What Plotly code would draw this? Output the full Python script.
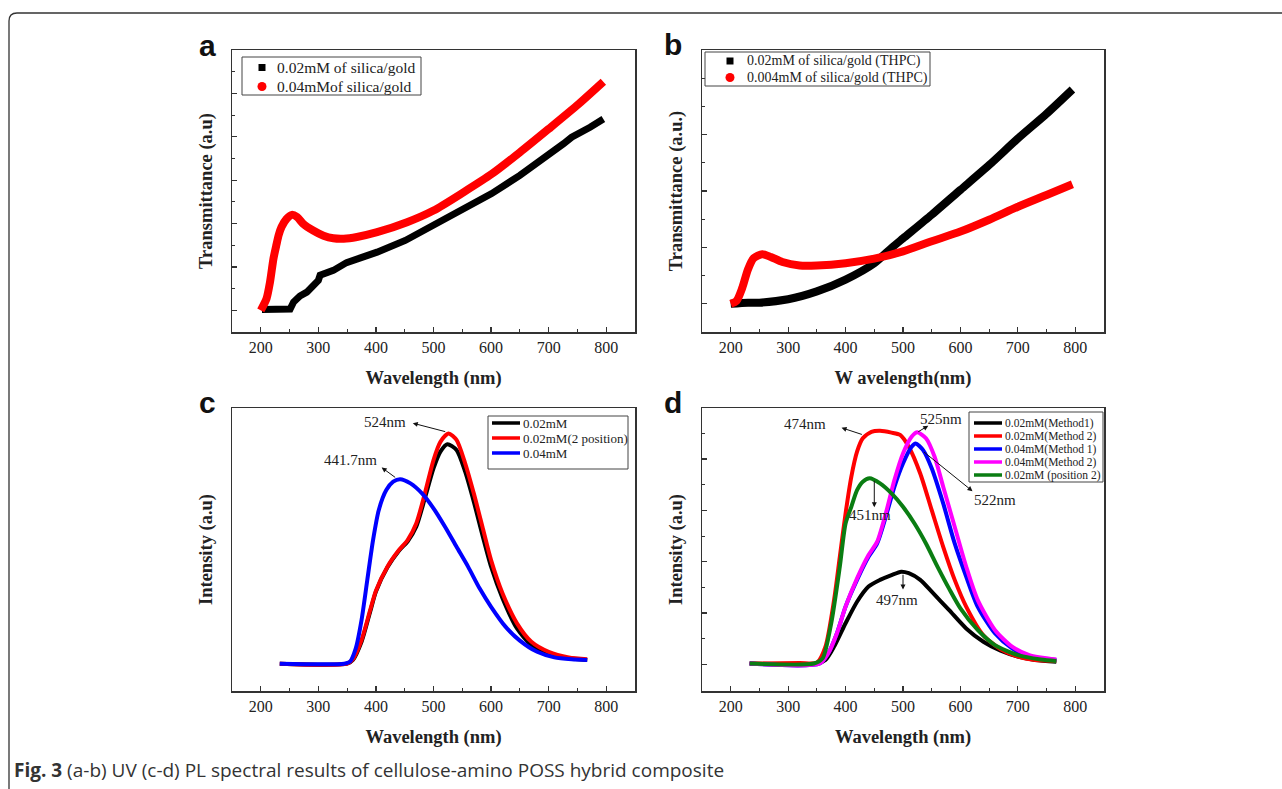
import plotly.graph_objects as go

W, H = 1282, 789

# ---------------- data ----------------
wl_ticks = [200, 300, 400, 500, 600, 700, 800]
wl_tick_text = ["200", "300", "400", "500", "600", "700", "800"]
wl_minor = [250, 350, 450, 550, 650, 750]

# (a) UV transmittance
a_black_x = [202, 251, 257, 268, 280, 291, 300, 303, 309, 326, 349, 402, 451, 500, 550, 601, 650, 700, 726, 740, 749, 772, 795]
a_black_y = [0.02, 0.03, 0.19, 0.33, 0.42, 0.54, 0.69, 0.81, 0.84, 0.92, 1.10, 1.34, 1.61, 1.96, 2.30, 2.69, 3.11, 3.57, 3.84, 3.99, 4.05, 4.22, 4.41]
a_red_x = [200, 210, 216, 222, 227, 231, 236, 245, 254, 263, 274, 291, 309, 326, 344, 367, 402, 454, 500, 552, 601, 650, 700, 749, 795]
a_red_y = [0.0, 0.27, 0.65, 1.19, 1.50, 1.73, 1.92, 2.11, 2.20, 2.15, 1.99, 1.84, 1.72, 1.66, 1.65, 1.69, 1.80, 2.03, 2.30, 2.72, 3.14, 3.64, 4.18, 4.72, 5.27]
a_names = ["0.02mM of silica/gold", "0.04mMof silica/gold"]

# (b) UV transmittance (THPC)
b_black_x = [200, 230, 250, 300, 350, 400, 450, 480, 500, 550, 600, 650, 700, 750, 795]
b_black_y = [0.0, 0.02, 0.02, 0.08, 0.22, 0.43, 0.72, 0.99, 1.16, 1.58, 2.02, 2.46, 2.93, 3.37, 3.80]
b_red_x = [200, 210, 220, 230, 240, 255, 270, 290, 320, 350, 400, 450, 500, 550, 600, 650, 700, 750, 795]
b_red_y = [0.0, 0.05, 0.28, 0.61, 0.81, 0.88, 0.83, 0.74, 0.68, 0.68, 0.72, 0.80, 0.93, 1.11, 1.28, 1.49, 1.72, 1.93, 2.12]
b_names = ["0.02mM of silica/gold (THPC)", "0.004mM of silica/gold (THPC)"]

# (c) PL intensity
c_black_x = [233, 350, 360, 375, 390, 400, 420, 440, 455, 470, 485, 500, 512, 524, 540, 555, 570, 585, 600, 620, 645, 670, 700, 735, 767]
c_black_y = [0, 0, 1.6, 9.4, 22.3, 30.9, 41.3, 48.4, 52.4, 58.7, 70.9, 83.7, 90.9, 94.1, 91.6, 82.3, 69.4, 55.1, 41.6, 28.0, 15.1, 8.0, 4.1, 2.3, 1.6]
c_red_x = [233, 350, 360, 375, 390, 400, 420, 440, 455, 470, 485, 500, 512, 526, 540, 555, 570, 585, 600, 620, 645, 670, 700, 735, 767]
c_red_y = [0, 0, 1.9, 10.1, 23.0, 31.3, 41.6, 48.7, 53.0, 60.1, 73.0, 87.3, 95.1, 98.7, 95.9, 85.9, 73.0, 58.7, 44.4, 30.1, 17.3, 9.4, 5.1, 2.7, 1.9]
c_blue_x = [233, 345, 355, 365, 375, 385, 395, 405, 418, 430, 442, 460, 480, 500, 520, 540, 560, 580, 600, 625, 650, 680, 710, 740, 767]
c_blue_y = [0, 0, 0.9, 6.6, 18.7, 35.9, 53.0, 65.9, 74.4, 78.0, 79.1, 77.3, 73.0, 66.6, 58.7, 50.1, 41.6, 32.3, 24.4, 15.9, 9.9, 5.1, 2.7, 1.9, 1.6]
c_names = ["0.02mM", "0.02mM(2 position)", "0.04mM"]
c_colors = ["#000000", "#ff0000", "#0000ff"]

# (d) PL intensity
d_black_x = [233, 350, 365, 380, 400, 420, 440, 460, 480, 497, 510, 530, 550, 580, 610, 640, 670, 700, 730, 767]
d_black_y = [0.3, 0.3, 1.7, 6.9, 16.0, 24.4, 30.3, 32.9, 34.8, 36.1, 35.5, 32.9, 28.3, 21.2, 14.0, 8.8, 5.3, 3.0, 1.7, 1.0]
d_red_x = [233, 320, 350, 365, 380, 390, 400, 410, 420, 430, 445, 460, 480, 495, 510, 530, 550, 570, 590, 610, 640, 670, 700, 730, 767]
d_red_y = [0.3, 0.5, 0.6, 6.9, 25.1, 41.9, 58.8, 73.1, 82.9, 88.1, 90.6, 91.0, 90.3, 89.4, 84.8, 74.4, 60.1, 45.8, 32.9, 22.5, 11.3, 5.9, 3.0, 1.7, 1.3]
d_blue_x = [233, 355, 370, 385, 400, 420, 440, 455, 470, 485, 500, 515, 522, 535, 550, 570, 590, 610, 630, 660, 690, 720, 767]
d_blue_y = [0.3, 0.3, 4.3, 12.1, 22.5, 32.9, 41.9, 47.1, 57.5, 69.2, 78.3, 84.8, 86.1, 83.5, 76.4, 62.7, 47.1, 34.2, 22.5, 12.1, 6.2, 3.0, 1.7]
d_mag_x = [233, 355, 370, 385, 400, 420, 440, 455, 470, 485, 500, 515, 525, 540, 555, 570, 590, 610, 630, 660, 690, 720, 767]
d_mag_y = [0.3, 0.3, 4.3, 12.1, 22.5, 33.5, 42.6, 47.8, 58.8, 71.8, 82.2, 88.7, 90.4, 88.1, 80.9, 69.2, 53.6, 38.1, 25.1, 13.4, 6.9, 3.6, 1.9]
d_green_x = [233, 345, 360, 375, 390, 400, 410, 420, 430, 442, 460, 480, 500, 520, 540, 560, 580, 600, 630, 660, 700, 740, 767]
d_green_y = [0.3, 0.3, 2.3, 16.0, 38.1, 54.9, 61.4, 67.9, 71.2, 72.5, 70.5, 66.6, 61.4, 54.9, 47.1, 38.1, 29.6, 21.8, 13.4, 7.5, 3.6, 1.9, 1.3]
d_names = ["0.02mM(Method1)", "0.02mM(Method 2)", "0.04mM(Method 1)", "0.04mM(Method 2)", "0.02mM (position 2)"]
d_colors = ["#000000", "#ff0000", "#0000ff", "#ff00ff", "#0a7d12"]

caption_bold = "Fig. 3"
caption_rest = " (a-b) UV (c-d) PL spectral results of cellulose-amino POSS hybrid composite"

# ---------------- helpers ----------------
def px(x):
    return x / W


def py(y):
    return 1 - y / H


SERIF = "Liberation Serif, Times New Roman, serif"
SANS = "Liberation Sans, Arial, sans-serif"
AXC = "#333333"
TXT = "#222222"

fig = go.Figure()


def curve(x, y, color, width, xa, ya, name="", shape="spline"):
    fig.add_trace(go.Scatter(
        x=x, y=y, mode="lines", name=name,
        line=dict(color=color, width=width, shape=shape, smoothing=0.7),
        xaxis=xa, yaxis=ya, showlegend=False, hoverinfo="skip"))


# (a)
curve(a_black_x, a_black_y, "#000000", 7, "x", "y", a_names[0], shape="linear")
curve(a_red_x, a_red_y, "#ff0000", 8, "x", "y", a_names[1])
# (b)
curve(b_black_x, b_black_y, "#000000", 8, "x2", "y2", b_names[0])
curve(b_red_x, b_red_y, "#ff0000", 8, "x2", "y2", b_names[1])
# (c)
for (xs, ys), nm, col in zip([(c_black_x, c_black_y), (c_red_x, c_red_y), (c_blue_x, c_blue_y)],
                             c_names, c_colors):
    curve(xs, ys, col, 4, "x3", "y3", nm)
# (d)
d_series = [(d_black_x, d_black_y), (d_red_x, d_red_y), (d_blue_x, d_blue_y),
            (d_mag_x, d_mag_y), (d_green_x, d_green_y)]
for (xs, ys), nm, col in zip(d_series, d_names, d_colors):
    curve(xs, ys, col, 4, "x4", "y4", nm)

# ---------------- axes ----------------
XD_L = [px(232), px(635)]
XD_R = [px(702), px(1104)]
YD_T = [py(332), py(50)]
YD_B = [py(691), py(408)]

TITLE_FONT = dict(family=SERIF, size=18.5, color=TXT, weight="bold")


def xax(domain, anchor, title, standoff=16):
    return dict(domain=domain, anchor=anchor, range=[150, 850],
                tickmode="array", tickvals=wl_ticks, ticktext=wl_tick_text,
                ticks="inside", ticklen=5, tickwidth=1.2, tickcolor=AXC,
                minor=dict(tickvals=wl_minor, ticks="inside", ticklen=3, tickwidth=1, tickcolor=AXC),
                showline=True, linecolor=AXC, linewidth=1.5, mirror=True,
                showgrid=False, zeroline=False, fixedrange=True,
                tickfont=dict(family=SERIF, size=16, color=TXT),
                title=dict(text=title, standoff=standoff, font=TITLE_FONT))


def yax(domain, anchor, rng, title, major=None, minor=None, standoff=13):
    d = dict(domain=domain, anchor=anchor, range=rng,
             showline=True, linecolor=AXC, linewidth=1.5, mirror=True,
             showgrid=False, zeroline=False, showticklabels=False, fixedrange=True,
             title=dict(text=title, standoff=standoff, font=TITLE_FONT))
    if major is not None:
        d.update(tickmode="array", tickvals=major, ticks="inside", ticklen=5,
                 tickwidth=1.2, tickcolor=AXC,
                 minor=dict(tickvals=minor, ticks="inside", ticklen=3, tickwidth=1, tickcolor=AXC))
    else:
        d.update(ticks="")
    return d


a_major = [0, 1, 2, 3, 4, 5]
a_minor = [0.5, 1.5, 2.5, 3.5, 4.5, 5.5]
b_major = [0, 1, 2, 3, 4]
b_minor = [0.5, 1.5, 2.5, 3.5]
d_major = [0, 20, 40, 60, 80]
d_minor = [10, 30, 50, 70, 90]

fig.update_layout(
    width=W, height=H, margin=dict(l=0, r=0, t=0, b=0),
    paper_bgcolor="white", plot_bgcolor="white", showlegend=False,
    xaxis=xax(XD_L, "y", "Wavelength (nm)"),
    yaxis=yax(YD_T, "x", [-0.5, 6.0], "Transmittance (a.u)", a_major, a_minor),
    xaxis2=xax(XD_R, "y2", "W avelength(nm)"),
    yaxis2=yax(YD_T, "x2", [-0.5, 4.5], "Transmittance (a.u.)", b_major, b_minor),
    xaxis3=xax(XD_L, "y3", "Wavelength (nm)"),
    yaxis3=yax(YD_B, "x3", [-11.7, 109.6], "Intensity (a.u)"),
    xaxis4=xax(XD_R, "y4", "Wavelength (nm)"),
    yaxis4=yax(YD_B, "x4", [-10.4, 99.9], "Intensity (a.u)", d_major, d_minor),
)

ann = []
shapes = []

# ---------------- legends (boxes in paper space) ----------------
def legend_box(x0, x1, y0, y1):
    shapes.append(dict(type="rect", xref="paper", yref="paper", x0=px(x0), x1=px(x1),
                       y0=py(y1), y1=py(y0), line=dict(color="#444444", width=1),
                       fillcolor="white", layer="above"))


def legend_text(x, y, text, size):
    ann.append(dict(text=text, x=px(x), y=py(y), xref="paper", yref="paper",
                    showarrow=False, xanchor="left", yanchor="middle",
                    font=dict(family=SERIF, size=size, color=TXT)))


def legend_symbol(x, y, kind, color, half):
    shapes.append(dict(type=kind, xref="paper", yref="paper",
                       xsizemode="pixel", ysizemode="pixel",
                       xanchor=px(x), yanchor=py(y),
                       x0=-half, x1=half, y0=-half, y1=half,
                       fillcolor=color, line=dict(color=color, width=0), layer="above"))


def legend_line(x0, x1, y, color):
    shapes.append(dict(type="line", xref="paper", yref="paper", x0=px(x0), x1=px(x1),
                       y0=py(y), y1=py(y), line=dict(color=color, width=3.5), layer="above"))


# (a)
legend_box(242, 421, 57, 95)
for nm, kind, col, half, ry in zip(a_names, ["rect", "circle"], ["#000000", "#ff0000"], [3.5, 4.5], [67.5, 86.5]):
    legend_symbol(262, ry, kind, col, half)
    legend_text(275, ry, nm, 15.5)
# (b)
legend_box(705, 930, 52, 86)
for nm, kind, col, half, ry in zip(b_names, ["rect", "circle"], ["#000000", "#ff0000"], [3.5, 4.5], [61, 77.5]):
    legend_symbol(730, ry, kind, col, half)
    legend_text(745, ry, nm, 14)
# (c)
legend_box(488, 628, 416, 469)
for nm, col, ry in zip(c_names, c_colors, [423, 438, 453]):
    legend_line(492, 520, ry, col)
    legend_text(521, ry, nm, 13)
# (d)
legend_box(969, 1103, 412, 482)
for nm, col, ry in zip(d_names, d_colors, [423, 436, 449, 462, 475]):
    legend_line(974, 1002, ry, col)
    legend_text(1003, ry, nm, 11.5)

# ---------------- annotations ----------------
for letter, lx, ly in [("a", 207, 46), ("b", 673, 44), ("c", 207, 403), ("d", 673, 402)]:
    ann.append(dict(text=letter, x=px(lx), y=py(ly), xref="paper", yref="paper",
                    showarrow=False, xanchor="center", yanchor="middle",
                    font=dict(family=SANS, size=30, color="#111111", weight="bold")))


def arrow(xa, ya, tail, head):
    ann.append(dict(text="", x=head[0], y=head[1], ax=tail[0], ay=tail[1],
                    xref=xa, yref=ya, axref=xa, ayref=ya, showarrow=True,
                    arrowhead=2, arrowsize=1, arrowwidth=1, arrowcolor="#111111",
                    standoff=0, startstandoff=0))


def label(xa, ya, text, x, y, size=15):
    ann.append(dict(text=text, x=x, y=y, xref=xa, yref=ya, showarrow=False,
                    xanchor="center", yanchor="middle",
                    font=dict(family=SERIF, size=size, color=TXT)))


# (c) peak labels
label("x3", "y3", "524nm", 416, 103.6)
arrow("x3", "y3", (523, 99.3), (464, 103.1))
label("x3", "y3", "441.7nm", 355, 87.3)
arrow("x3", "y3", (436, 79.4), (410, 84.1))

# (d) peak labels
label("x4", "y4", "474nm", 329, 93.6)
arrow("x4", "y4", (431, 89.4), (393, 92.2))
label("x4", "y4", "525nm", 567, 95.8)
arrow("x4", "y4", (524, 90.3), (544, 93.0))
label("x4", "y4", "522nm", 661, 64.0)
arrow("x4", "y4", (534, 83.2), (621, 67.5))
label("x4", "y4", "451nm", 442, 58.2)
arrow("x4", "y4", (450, 72.1), (450, 61.2))
label("x4", "y4", "497nm", 490, 25.1)
arrow("x4", "y4", (500, 35.5), (500, 29.2))

# outer frame (top + left with rounded corner)
shapes.append(dict(type="path", xref="paper", yref="paper",
                   path=f"M {px(9)},-0.01 L {px(9)},{py(21)} Q {px(9)},{py(13)} {px(17)},{py(13)} L 1.01,{py(13)}",
                   line=dict(color="#333333", width=1.3)))

# caption
ann.append(dict(text=f"<b>{caption_bold}</b>{caption_rest}", x=px(12), y=py(770),
                xref="paper", yref="paper", showarrow=False, xanchor="left", yanchor="middle",
                font=dict(family="Open Sans, Noto Sans, sans-serif", size=19, color="#333333")))

fig.update_layout(annotations=ann, shapes=shapes)

fig.write_html("out.html", config={"displayModeBar": False, "staticPlot": True},
               post_script="document.body.style.margin='0';document.body.style.overflow='hidden';")
